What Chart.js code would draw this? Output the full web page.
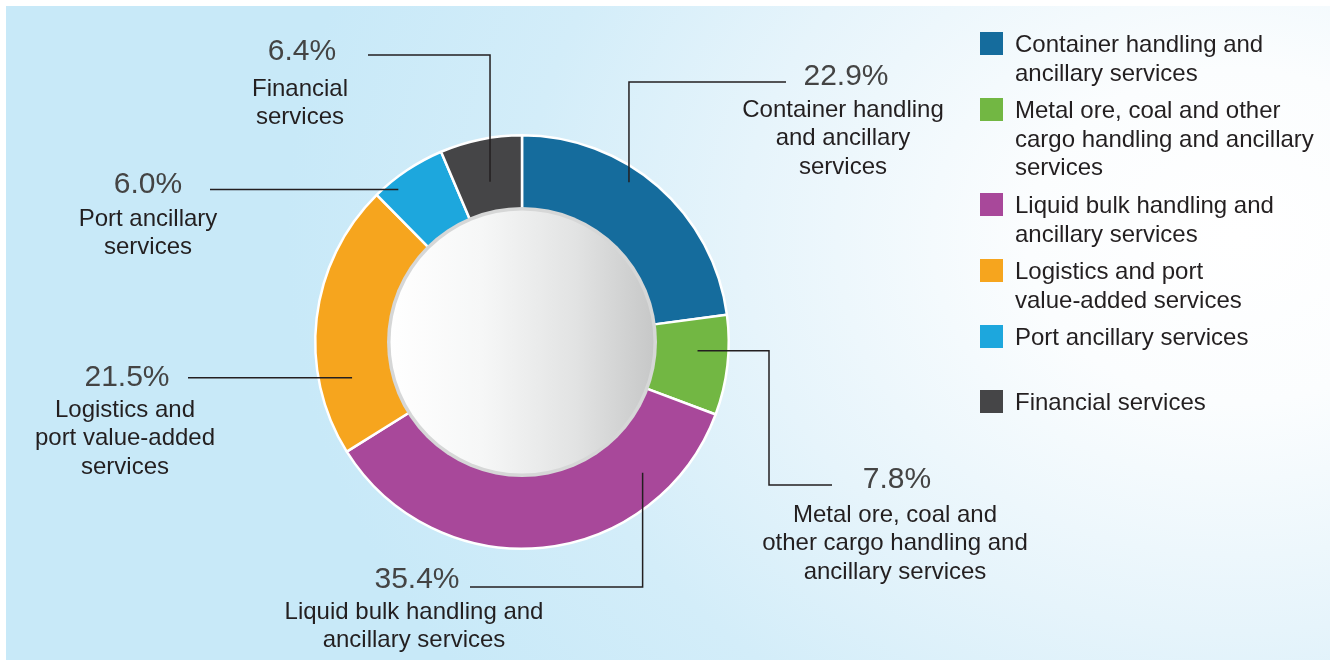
<!DOCTYPE html>
<html>
<head>
<meta charset="utf-8">
<script src="https://cdn.jsdelivr.net/npm/chart.js@4.4.1/dist/chart.umd.min.js"></script>
<style>
  html, body { margin: 0; padding: 0; background: #ffffff; }
  #wrap { position: relative; width: 1330px; height: 663px; overflow: hidden; background: #ffffff; }
  #panel { position: absolute; left: 6px; top: 6px; width: 1324px; height: 654px;
    background: radial-gradient(ellipse 950px 760px at 1230px 230px, #ffffff 0%, #fbfdfe 22%, #e6f4fb 52%, #d3edf9 75%, #c8e9f8 100%); }
  #chart { position: absolute; left: 0; top: 0; }
  #legend { position: absolute; left: 980px; top: 30px; width: 345px;
    font-family: "Liberation Sans", Arial, sans-serif; font-size: 24px; line-height: 28.6px; color: #231f20; }
  .item { display: flex; align-items: flex-start; margin-bottom: 9px; }
  .sw { width: 23px; height: 23px; margin-top: 2px; margin-right: 12px; flex: none; }
</style>
</head>
<body>
<div id="wrap">
  <div id="panel"></div>
  <canvas id="chart" width="1330" height="663"></canvas>
  <div id="legend"></div>
</div>
<script>
// ---- data ----
const categories = [
  'Container handling and ancillary services',
  'Metal ore, coal and other cargo handling and ancillary services',
  'Liquid bulk handling and ancillary services',
  'Logistics and port value-added services',
  'Port ancillary services',
  'Financial services'
];
const shares = [22.9, 7.8, 35.4, 21.5, 6.0, 6.4];
const pctLabels = ['22.9%', '7.8%', '35.4%', '21.5%', '6.0%', '6.4%'];
const legendLines = [
  ['Container handling and', 'ancillary services'],
  ['Metal ore, coal and other', 'cargo handling and ancillary', 'services'],
  ['Liquid bulk handling and', 'ancillary services'],
  ['Logistics and port', 'value-added services'],
  ['Port ancillary services'],
  ['Financial services']
];
const calloutLines = [
  ['Container handling', 'and ancillary', 'services'],
  ['Metal ore, coal and', 'other cargo handling and', 'ancillary services'],
  ['Liquid bulk handling and', 'ancillary services'],
  ['Logistics and', 'port value-added', 'services'],
  ['Port ancillary', 'services'],
  ['Financial', 'services']
];
const colors = ['#156c9d', '#72b743', '#a8489a', '#f6a51e', '#1da7dd', '#454547'];

// ---- layout of callouts (positions only) ----
const calloutLayout = [
  { frac: 0.41, rad: 0.93, path: [{v: 82}, {h: 786}], pct: [846, 77], text: [843, 110] },
  { frac: 0.37, rad: 0.85, path: [{h: 769}, {v: 485}, {h: 832}], pct: [897, 480], text: [895, 515] },
  { frac: 0.21, rad: 0.86, path: [{v: 587}, {h: 470}], pct: [417, 580], text: [414, 612] },
  { frac: 0.26, rad: 0.84, path: [{h: 188}], pct: [127, 378], text: [125, 410] },
  { frac: 0.26, rad: 0.95, path: [{h: 210}], pct: [148, 185], text: [148, 219] },
  { frac: 0.51, rad: 0.79, path: [{v: 55}, {h: 368}], pct: [302, 52], text: [300, 89] }
];
const LINE_H = 28.6;

// ---- legend (HTML) ----
const legendEl = document.getElementById('legend');
categories.forEach((c, i) => {
  const item = document.createElement('div');
  item.className = 'item';
  if (i === 5) item.style.marginTop = '36px';
  const sw = document.createElement('div');
  sw.className = 'sw';
  sw.style.background = colors[i];
  const tx = document.createElement('div');
  tx.innerHTML = legendLines[i].join('<br>');
  item.appendChild(sw); item.appendChild(tx);
  legendEl.appendChild(item);
});

const calloutPlugin = {
  id: 'callouts',
  afterDatasetsDraw(chart) {
    const ctx = chart.ctx;
    const meta = chart.getDatasetMeta(0);
    const a0 = meta.data[0];
    const cx = a0.x, cy = a0.y, R = a0.outerRadius;
    // inner disc
    const ri = R * 0.648;
    ctx.save();
    ctx.beginPath();
    ctx.arc(cx, cy, ri + 1, 0, Math.PI * 2);
    ctx.fillStyle = '#d6d7d7';
    ctx.fill();
    const g = ctx.createLinearGradient(cx - ri, 0, cx + ri, 0);
    g.addColorStop(0, '#ffffff');
    g.addColorStop(0.35, '#f6f7f7');
    g.addColorStop(0.7, '#e2e3e3');
    g.addColorStop(1, '#c6c7c7');
    ctx.beginPath();
    ctx.arc(cx, cy, ri - 2.5, 0, Math.PI * 2);
    ctx.fillStyle = g;
    ctx.fill();
    ctx.restore();

    // leader lines & labels
    ctx.save();
    ctx.strokeStyle = '#231f20';
    ctx.lineWidth = 1.5;
    meta.data.forEach((arc, i) => {
      const L = calloutLayout[i];
      const ang = arc.startAngle + (arc.endAngle - arc.startAngle) * L.frac;
      const r = arc.outerRadius * L.rad;
      let x = arc.x + r * Math.cos(ang), y = arc.y + r * Math.sin(ang);
      ctx.beginPath();
      ctx.moveTo(x, y);
      L.path.forEach(p => {
        if (p.v !== undefined) y = p.v;
        if (p.h !== undefined) x = p.h;
        ctx.lineTo(x, y);
      });
      ctx.stroke();

      ctx.textAlign = 'center';
      ctx.textBaseline = 'middle';
      ctx.fillStyle = '#444444';
      ctx.font = '30px "Liberation Sans", Arial, sans-serif';
      ctx.fillText(pctLabels[i], L.pct[0], L.pct[1]);
      ctx.fillStyle = '#231f20';
      ctx.font = '24px "Liberation Sans", Arial, sans-serif';
      calloutLines[i].forEach((t, k) => {
        ctx.fillText(t, L.text[0], L.text[1] + k * LINE_H);
      });
    });
    ctx.restore();
  }
};

new Chart(document.getElementById('chart'), {
  type: 'doughnut',
  data: {
    labels: categories,
    datasets: [{
      data: shares,
      backgroundColor: colors,
      borderColor: '#ffffff',
      borderWidth: 2.5,
      hoverOffset: 0
    }]
  },
  options: {
    responsive: false,
    animation: false,
    cutout: '62%',
    layout: { padding: { left: 314, right: 600, top: 134, bottom: 113 } },
    plugins: {
      legend: { display: false },
      tooltip: { enabled: false }
    }
  },
  plugins: [calloutPlugin]
});
</script>
</body>
</html>
